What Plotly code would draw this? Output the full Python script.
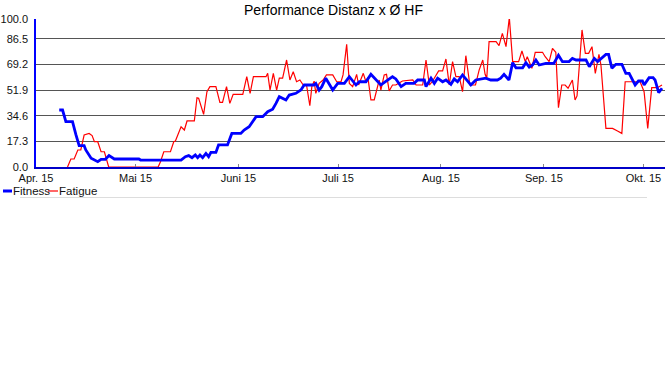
import pandas as pd
import plotly.graph_objects as go

# ---------------- data ----------------
start_date = "2015-04-01"

fitness_day = [7, 8, 9, 11, 12, 13, 14.5, 15, 16.6, 18.6, 19.6, 20.9, 22, 23.6, 31, 31.5, 43.7,
               45, 46, 47, 48, 48.7, 49.4, 50.2, 51.2, 52, 52.7, 54.2, 55, 57.7, 59, 61.7, 62.7,
               64.2, 66.3, 68.3, 69.8, 71.3, 72.3, 73.3, 75.3, 76.3, 78.3, 79.8, 80.8, 83.7, 84.3,
               85.3, 86.1, 87.3, 89.4, 90.9, 92.9, 94.4, 96.4, 97.4, 99.4, 100.9, 103.9, 105.4,
               107.4, 108.4, 110, 111.4, 113.9, 115, 117, 117.5, 119, 120, 121, 122.5, 123.5, 125,
               126, 127, 128.5, 131, 132.5, 135.5, 137, 139, 140, 141, 142.5, 143.6, 144.6, 146.6,
               147.6, 148.6, 149.6, 150.6, 151.6, 153.6, 156, 157.4, 158.6, 160.6, 161.6, 162.7,
               165.7, 166.7, 168.2, 169.2, 170.2, 171.7, 172.5, 173.5, 174.7, 176.5, 177.7, 178.7,
               180.5, 181.5, 182.7, 183.2, 184.7, 185.9, 186.5, 187.6, 188.6]
fitness_val = [38.5, 38.5, 30.6, 30.6, 22, 14.4, 14.4, 11.5, 5.9, 3.6, 5.2, 5.2, 7.7, 5.4, 5.4, 4.7, 4.7,
               7, 7.7, 6.3, 8.1, 6.3, 8.1, 6.3, 9.2, 7, 9.9, 9.9, 14.9, 14.9, 22.7, 22.7, 25,
               27.2, 34, 34, 37.4, 39, 43, 47.5, 45.3, 48.6, 49.8, 52, 55.4, 55.4, 56.5,
               52, 54.3, 60, 52, 56.5, 56.5, 61, 55.4, 57.6, 57.6, 62.6, 55.4, 57.6,
               61, 59.5, 54.3, 56.5, 56.5, 58.8, 58.8, 54.3, 60, 56.5, 60, 57.6, 58.8, 55.9,
               59.5, 57.6, 62.2, 55.4, 58.8, 60, 58.8, 58.8, 60, 62.6, 58.8, 70.5, 67, 67,
               70.5, 67.5, 68.9, 72.3, 68.9, 70, 70, 75.5, 71.2, 71.2, 73.4, 72.3,
               72.3, 67.8, 73.4, 71.2, 73.4, 76.1, 76.1, 66.7, 69.4, 69.4, 63.3, 63.3,
               55.4, 58.1, 58.1, 55.4, 60.4, 60.4, 58.8, 50.2, 53.2]

fatigue_day = [9.5, 10.5, 11.5, 12.6, 13.5, 14.5, 16, 16.9, 17.6, 18.6, 19.6, 20.6, 21.9, 36.8, 37.5,
               38.5, 40.5, 41.5, 42, 43.7, 44.7, 45.5, 47.7, 48.5, 49, 50.5, 51.5, 52.4, 54.2, 55.4,
               56.2, 57.4, 58.4, 59.4, 62.3, 63.5, 64.5, 65.5, 69.3, 69.8, 70.5, 71.5, 72.5, 73.3,
               74.3, 75.5, 76.5, 77.5, 78.5, 79.5, 80.5, 81.5, 82.5, 83.1, 83.8, 84.3, 85.3, 86.5,
               87.5, 89.4, 90.6, 91.9, 92.5, 93.6, 94.4, 95.4, 96.6, 97.2, 98.6, 99.4, 100, 100.9,
               101.9, 102.9, 103.4, 103.9, 104.9, 105.6, 106.4, 107.4, 108.4, 110.4, 113.5, 114.5,
               116.5, 117.5, 118.5, 119.5, 121.3, 122.5, 123.5, 124.5, 125.5, 126.5, 127.5, 128.5,
               129.5, 130.7, 132.4, 133.5, 134.6, 135.3, 135.8, 136.5, 138.6, 139.5, 140.5, 141.6,
               142.6, 143.6, 145.4, 146.4, 147.4, 148, 149.4, 150.4, 152.6, 153.4, 154.6, 155.6,
               156.6, 157.4, 158.4, 159.4, 160.3, 161.6, 162.4, 163, 164.5, 165.5, 166.5, 167.5,
               168.5, 169.6, 170.2, 171.7, 173.7, 175.2, 176.5, 177.5, 182, 183.2, 184.3, 185.5,
               187.2, 188.6]
fatigue_val = [0, 5.4, 5.4, 11.5, 11.5, 21.6, 22.7, 21.2, 17.1, 17.1, 10.3, 10.3, 0, 0, 3.6,
               10.3, 10.3, 17.1, 17.6, 27.2, 25, 31.1, 31.1, 46.8, 46.4, 35.6, 50.9, 54.3, 54.3, 43.7,
               43.7, 54.3, 43, 49.1, 49.1, 61, 49.8, 61, 61, 63.3, 52, 63.3, 52, 60,
               60, 72.3, 58.8, 64.4, 57.6, 58.8, 55.4, 55.4, 41.4, 54.3, 58, 49.8, 56.5, 58.8,
               62.2, 62.2, 57.6, 57.6, 62.2, 82.9, 56.5, 54.3, 62.6, 55.4, 63.3, 57.6, 60.4, 45.3,
               45.3, 54.3, 58.8, 52, 62.2, 62.6, 51.4, 55.4, 55.4, 58.1, 58.8, 55.4,
               55.4, 72.3, 55.4, 58.1, 64.9, 64.9, 73, 55.4, 71.2, 61, 61, 50.9,
               75.2, 55.4, 55.4, 65.5, 72.3, 62.6, 60, 84.7, 84.7, 82, 90.3, 81.3,
               101, 71.2, 71.2, 78.4, 71.2, 74.5, 66.7, 77.5, 77.5, 74.5, 71.2, 80.2,
               77.5, 40.1, 55.4, 55.4, 53.2, 58.8, 45.3, 48, 92.6, 76.8, 76.8, 81.3,
               63.3, 76.1, 68.9, 26.1, 26.1, 24.3, 22.7, 57.6, 57.6, 50.9, 26.1, 53.6,
               53.6, 55.4]

y_tick_vals = [0.0, 17.3, 34.6, 51.9, 69.2, 86.5, 100.0]
x_tick_dates = ["2015-04-01", "2015-05-01", "2015-06-01", "2015-07-01",
                "2015-08-01", "2015-09-01", "2015-10-01"]
x_tick_labels = ["Apr. 15", "Mai 15", "Juni 15", "Juli 15", "Aug. 15", "Sep. 15", "Okt. 15"]
series_names = ["Fitness", "Fatigue"]
title_text = "Performance Distanz x Ø HF"

# ---------------- figure ----------------
t0 = pd.Timestamp(start_date)
def to_dates(days):
    return [t0 + pd.to_timedelta(d, unit="D") for d in days]

FONT = "Liberation Sans, Arial, Helvetica, sans-serif"
BLUE = "#0000ff"
RED = "#ff0000"

fig = go.Figure()
fig.add_trace(go.Scatter(x=to_dates(fatigue_day), y=fatigue_val, mode="lines",
                         name=series_names[1], line=dict(color=RED, width=1.2),
                         showlegend=False))
fig.add_trace(go.Scatter(x=to_dates(fitness_day), y=fitness_val, mode="lines",
                         name=series_names[0], line=dict(color=BLUE, width=2.8),
                         showlegend=False))

W, H = 667, 375
L, R, T, B = 36, 2, 19, 208
pw, ph = W - L - R, H - T - B

def px_x(px):
    return (px - L) / pw

def px_y(py):
    return (H - B - py) / ph

x_end = t0 + pd.to_timedelta(189.5, unit="D")

fig.update_layout(
    width=W, height=H,
    margin=dict(l=L, r=R, t=T, b=B, pad=0),
    paper_bgcolor="white", plot_bgcolor="white",
    font=dict(family=FONT, size=11, color="#000"),
    title=dict(text=title_text, x=0.5, xref="container", xanchor="center",
               y=1 - 10 / H, yref="container", yanchor="middle",
               font=dict(family=FONT, size=14, color="#000")),
    xaxis=dict(range=[t0, x_end], tickvals=pd.to_datetime(x_tick_dates),
               ticktext=x_tick_labels, showgrid=False, zeroline=False,
               showline=True, linecolor="#0000c8", linewidth=1.5,
               ticks="inside", ticklen=3, tickcolor="#888", tickwidth=1,
               tickfont=dict(family=FONT, size=11, color="#111")),
    yaxis=dict(range=[0, 100], tickvals=y_tick_vals,
               ticktext=[f"{v:.1f}" for v in y_tick_vals],
               showgrid=True, gridcolor="#555555", gridwidth=1, zeroline=False,
               showline=True, linecolor=BLUE, linewidth=1.5, ticks="",
               ticklabelstandoff=4,
               tickfont=dict(family=FONT, size=11, color="#111")),
)

# custom compact legend below the plot
legend_y = px_y(191)
fig.add_shape(type="line", xref="paper", yref="paper", x0=px_x(3), x1=px_x(12),
              y0=legend_y, y1=legend_y, line=dict(color=BLUE, width=3))
fig.add_annotation(xref="paper", yref="paper", x=px_x(11), y=legend_y, text=series_names[0],
                   showarrow=False, xanchor="left", yanchor="middle",
                   font=dict(family=FONT, size=11.5, color="#111"))
fig.add_shape(type="line", xref="paper", yref="paper", x0=px_x(48), x1=px_x(58),
              y0=legend_y, y1=legend_y, line=dict(color=RED, width=1.2))
fig.add_annotation(xref="paper", yref="paper", x=px_x(57), y=legend_y, text=series_names[1],
                   showarrow=False, xanchor="left", yanchor="middle",
                   font=dict(family=FONT, size=11.5, color="#111"))
fig.add_shape(type="line", xref="paper", yref="paper", x0=px_x(20), x1=px_x(647),
              y0=px_y(197.5), y1=px_y(197.5), line=dict(color="#dddddd", width=1))

fig.write_html("out.html", config={"displayModeBar": False},
               post_script="document.body.style.margin='0';document.body.style.overflow='hidden';")
